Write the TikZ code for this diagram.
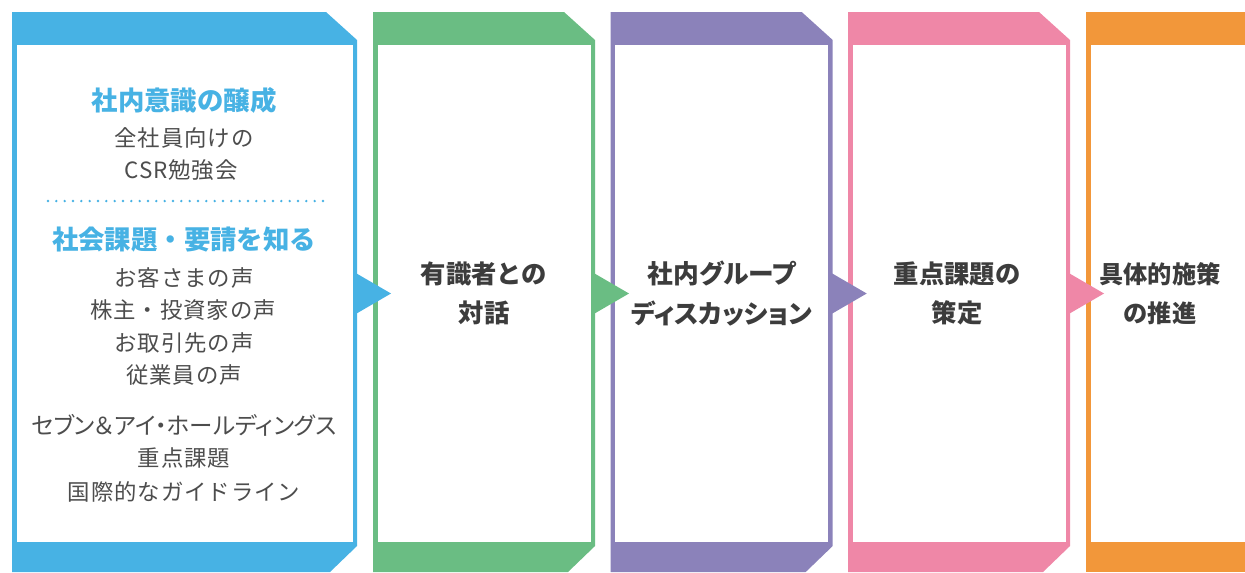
\documentclass[tikz,border=0pt]{standalone}
\usepackage{fontspec}
\newfontfamily\jp{Noto Sans CJK JP}
\newfontfamily\jpl[LetterSpace=4]{Noto Sans CJK JP}
\newfontfamily\jpp[RawFeature=+palt]{Noto Sans CJK JP}
\definecolor{cblue}{HTML}{47B2E4}
\definecolor{cgreen}{HTML}{6ABD83}
\definecolor{cpurple}{HTML}{8B82BA}
\definecolor{cpink}{HTML}{EF87A7}
\definecolor{corange}{HTML}{F2973A}
\definecolor{txtgray}{HTML}{4D4D4D}
\definecolor{txtdark}{HTML}{3C3C3C}
\newcommand\panelshape[3]{%
  \fill[#3] (#1,12) -- ({#2-31},12) -- (#2,40) -- (#2,546) -- ({#2-27},572) -- (#1,572) -- cycle;
  \fill[white] ({#1+4.6},45) rectangle ({#2-4.4},541.7);}
\newcommand\flowarrow[2]{%
  \fill[#2] ({#1-3},272) -- ({#1+34},293.5) -- ({#1-3},315) -- cycle;}
\begin{document}
\begin{tikzpicture}[x=0.75pt,y=-0.75pt,
  head/.style={font=\jp\bfseries\fontsize{19.8}{24}\selectfont, text=cblue, inner sep=0pt},
  body/.style={font=\jpl\fontsize{16.8}{20}\selectfont, text=txtgray, inner sep=0pt},
  bodyp/.style={font=\jpp\fontsize{17.6}{20}\selectfont, text=txtgray, inner sep=0pt},
  boxtext/.style={font=\jp\bfseries\fontsize{19}{29.3}\selectfont, text=txtdark, align=center, inner sep=0pt},
  boxtextp/.style={font=\jpp\bfseries\fontsize{19.3}{29.3}\selectfont, text=txtdark, align=center, inner sep=0pt}]
\useasboundingbox (0,0) rectangle (1245,572);
% panels
\panelshape{12}{357}{cblue}
\panelshape{373}{595}{cgreen}
\panelshape{610.7}{832.7}{cpurple}
\panelshape{848}{1070}{cpink}
\fill[corange] (1086,12) rectangle (1245,572);
\fill[white] (1091,45) rectangle (1245,541.7);
% arrows
\flowarrow{357}{cblue}
\flowarrow{595}{cgreen}
\flowarrow{832.7}{cpurple}
\flowarrow{1070}{cpink}
% panel 1 texts
\node[head] (h1) at (184,100) {社内意識の醸成};
\node[body] (t1) at (184,138) {全社員向けの};
\node[body] (t2) at (181,170) {CSR勉強会};
\coordinate (d1) at (48,201);
\coordinate (d2) at (326,201);
\draw[cblue, line width=2pt, line cap=round, dash pattern=on 0pt off 6.25pt] (d1) -- (d2);
\node[head] (h2) at (184,240) {社会課題・要請を知る};
\node[body] (t3) at (184,278) {お客さまの声};
\node[body] (t4) at (183,310) {株主・投資家の声};
\node[body] (t5) at (184,343) {お取引先の声};
\node[body] (t6) at (184,375) {従業員の声};
\node[bodyp] (t7) at (184,425) {セブン＆アイ・ホールディングス};
\node[body] (t8) at (184,458) {重点課題};
\node[body] (t9) at (184,492) {国際的なガイドライン};
% other panels
\node[boxtext] (b2) at (484,293.5) {有識者との\\対話};
\node[boxtextp] (b3) at (721.7,293.5) {社内グループ\\ディスカッション};
\node[boxtext] (b4) at (957,293.5) {重点課題の\\策定};
\node[boxtext, font=\jp\bfseries\fontsize{18.2}{29.3}\selectfont] (b5) at (1160,293.5) {具体的施策\\の推進};
\end{tikzpicture}
\end{document}
